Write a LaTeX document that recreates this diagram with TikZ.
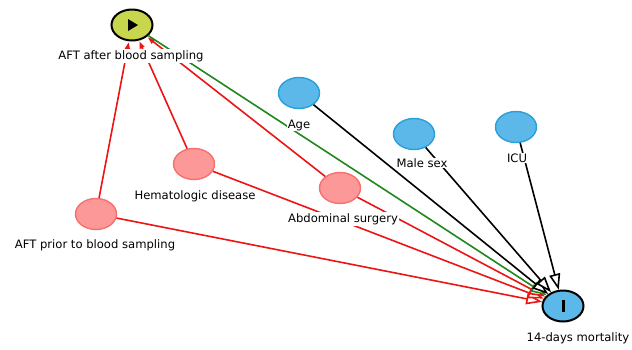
\documentclass[tikz,border=0pt]{standalone}
\usepackage{fontspec}
\setmainfont{DejaVu Sans}
\usetikzlibrary{arrows.meta,shapes.geometric}
\definecolor{cyell}{RGB}{200,214,78}
\definecolor{cblue}{RGB}{92,184,232}
\definecolor{cbluedark}{RGB}{40,160,220}
\definecolor{cpink}{RGB}{252,152,152}
\definecolor{cpinkdark}{RGB}{246,112,112}
\definecolor{cred}{RGB}{236,20,20}
\definecolor{cgreen}{RGB}{30,135,30}
\tikzset{
  varnode/.style={ellipse, minimum width=41pt, minimum height=31pt, inner sep=0pt, line width=1.4pt},
  covar/.style={varnode, fill=cblue, draw=cbluedark},
  anc/.style={varnode, fill=cpink, draw=cpinkdark},
  expo/.style={varnode, fill=cyell, draw=black, line width=2pt},
  outc/.style={varnode, fill=cblue, draw=black, line width=2pt},
  lbl/.style={fill=white, inner sep=1pt, font=\fontsize{11.6}{13}\selectfont},
  bigtip/.style={-{Triangle[open, length=16pt, width=11pt, fill=white]}, line width=1.6pt},
  smalltip/.style={-{Triangle[length=7pt, width=5pt]}, line width=1.6pt},
}
\begin{document}
\begin{tikzpicture}[x=1pt,y=-1pt]
\useasboundingbox (0,0) rectangle (632,349);
% nodes
\node[expo] (after) at (132,25) {};
\node[outc] (mort) at (563,306) {};
\node[covar] (age) at (299,93) {};
\node[covar] (male) at (414,134) {};
\node[covar] (icu) at (516,127) {};
\node[anc] (hem) at (194,164) {};
\node[anc] (abd) at (340,188) {};
\node[anc] (prior) at (96,214) {};
% symbols
\fill[black] (128,19) -- (138,25) -- (128,31) -- cycle;
\fill[black] (561.5,300) rectangle (564.5,312);
% edges to exposure
\draw[smalltip, cred, shorten >=1pt] (prior) -- (after);
\draw[smalltip, cred, shorten >=1pt] (hem) -- (after);
\draw[smalltip, cred, shorten >=1pt] (abd) -- (after);
% edges to outcome
\draw[bigtip, cred] (prior) -- (mort);
\draw[bigtip, cred] (hem) -- (mort);
\draw[bigtip, cred] (abd) -- (mort);
\draw[bigtip, cgreen] (after) -- (mort);
\draw[bigtip, black] (age) -- (mort);
\draw[bigtip, black] (male) -- (mort);
\draw[bigtip, black] (icu) -- (mort);
% labels
\node[lbl] (lafter) at (131,56) {AFT after blood sampling};
\node[lbl] (lmort) at (578,338) {14-days mortality};
\node[lbl] (lage) at (299,125) {Age};
\node[lbl] (lmale) at (422,163) {Male sex};
\node[lbl] (licu) at (517,158) {ICU};
\node[lbl] (lhem) at (195,196) {Hematologic disease};
\node[lbl] (labd) at (343,219) {Abdominal surgery};
\node[lbl] (lprior) at (95,245) {AFT prior to blood sampling};
\end{tikzpicture}
\end{document}
